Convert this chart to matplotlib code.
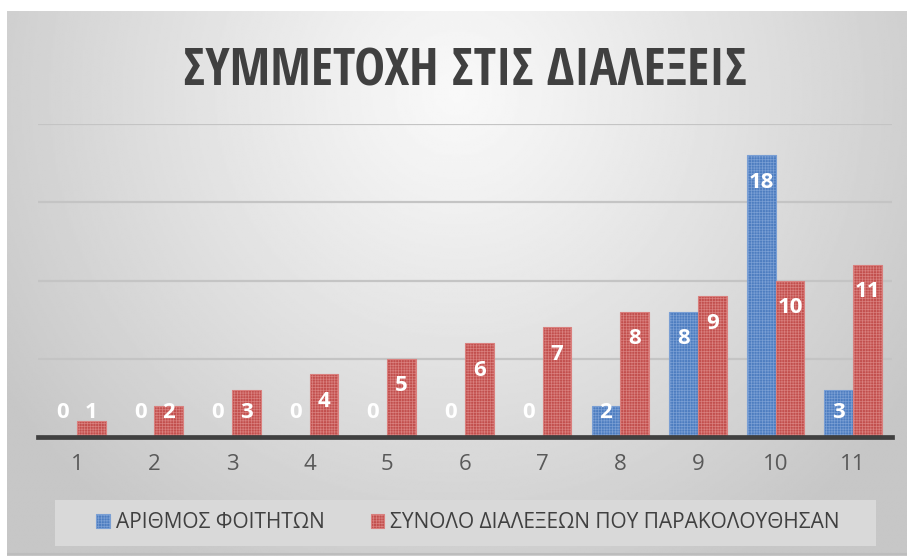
import numpy as np
import matplotlib
matplotlib.use("Agg")
import matplotlib.pyplot as plt
from matplotlib.patches import Rectangle
from matplotlib import font_manager
from matplotlib.ft2font import FT2Font

# ---- data ----
categories = ["1", "2", "3", "4", "5", "6", "7", "8", "9", "10", "11"]
students = [0, 0, 0, 0, 0, 0, 0, 2, 8, 18, 3]
lectures = [1, 2, 3, 4, 5, 6, 7, 8, 9, 10, 11]
series_names = ["ΑΡΙΘΜΟΣ ΦΟΙΤΗΤΩΝ", "ΣΥΝΟΛΟ ΔΙΑΛΕΞΕΩΝ ΠΟΥ ΠΑΡΑΚΟΛΟΥΘΗΣΑΝ"]
title_text = "ΣΥΜΜΕΤΟΧΗ ΣΤΙΣ ΔΙΑΛΕΞΕΙΣ"

W, H = 907, 556


def covers(path, text):
    try:
        f = FT2Font(path)
        return all(f.get_char_index(ord(c)) != 0 for c in set(text) if c != " ")
    except Exception:
        return False


def pick_condensed_bold():
    prefs = ["Open Sans", "Noto Sans", "Fira Sans", "Roboto", "IBM Plex Sans",
             "Liberation Sans", "Archivo", "PT Sans", "Ubuntu"]
    best = None
    for f in font_manager.fontManager.ttflist:
        narrow = (f.stretch in ("condensed", "semi-condensed", "extra-condensed")
                  or "ondensed" in f.fname or "Narrow" in f.fname)
        if not narrow or f.style != "normal":
            continue
        try:
            w = int(f.weight)
        except Exception:
            w = 700 if "bold" in str(f.weight).lower() else 400
        if w < 600 or w > 800:
            continue
        if "Semi" in f.fname or "Extra" in f.fname or "Italic" in f.fname:
            continue
        if not covers(f.fname, title_text):
            continue
        rank = next((i for i, p in enumerate(prefs) if f.name.startswith(p)), len(prefs))
        key = (rank, abs(w - 700))
        if best is None or key < best[0]:
            best = (key, f.fname)
    return best[1] if best else None


title_font_file = pick_condensed_bold()

plt.rcParams['hatch.linewidth'] = 0.5
fig = plt.figure(figsize=(W / 100, H / 100), dpi=100, facecolor="white")

# ---- gradient background (chart area) ----
bg = fig.add_axes([7 / W, 0, (W - 7) / W, (H - 11) / H], zorder=-10)
bg.set_axis_off()
ny, nx = 300, 500
yy, xx = np.mgrid[0:1:ny * 1j, 0:1:nx * 1j]
d = np.sqrt(((xx - 0.5) / 0.6) ** 2 + ((yy - 0.15) / 1.0) ** 2)
d = np.clip(d, 0, 1)
light, dark = 0.975, 0.78
img = light - (light - dark) * d ** 1.1
bg.imshow(img, cmap="gray", vmin=0, vmax=1, aspect="auto", extent=[0, 1, 1, 0],
          interpolation="bilinear")
bg.set_xlim(0, 1)
bg.set_ylim(1, 0)
bg.plot([0, 1], [0.003, 0.003], color="#bdbdbd", lw=1.5, transform=bg.transAxes)

# ---- main axes ----
ax = fig.add_axes([38 / W, (H - 437) / H, (892 - 38) / W, (437 - 124) / H])
ax.patch.set_alpha(0)
x = np.arange(1, len(categories) + 1)
bw = 0.37
blue_face, blue_edge = "#4d7dc0", "#7a9fd4"
red_face, red_edge = "#c24f4d", "#d9807e"
ax.bar(x - bw / 2, students, width=bw, color=blue_face, edgecolor=blue_edge,
       hatch="++++++", linewidth=0.8, zorder=3)
ax.bar(x + bw / 2, lectures, width=bw, color=red_face, edgecolor=red_edge,
       hatch="++++++", linewidth=0.8, zorder=3)

lab_font = dict(family=["Open Sans", "DejaVu Sans"], fontsize=16, fontweight="bold",
                color="white", ha="center", va="center", zorder=5)
for xi, v in zip(x, students):
    ax.text(xi - bw / 2, max(v - 1.72, 1.55), str(v), **lab_font)
for xi, v in zip(x, lectures):
    ax.text(xi + bw / 2, max(v - 1.72, 1.55), str(v), **lab_font)

ax.set_xlim(0.5, len(categories) + 0.5)
ax.set_ylim(0, 20)
ax.set_yticks([5, 10, 15, 20])
ax.yaxis.grid(True, color="#c4c4c4", lw=1.6, zorder=0)
ax.tick_params(axis="y", length=0, labelleft=False)
ax.set_xticks(x)
ax.set_xticklabels(categories, fontsize=16, color="#595959",
                   family=["Open Sans", "DejaVu Sans"])
ax.tick_params(axis="x", length=0, pad=12)
for s in ["top", "left", "right"]:
    ax.spines[s].set_visible(False)
ax.spines["bottom"].set_color("#404040")
ax.spines["bottom"].set_linewidth(3.4)
ax.spines["bottom"].set_zorder(6)

# ---- title ----
if title_font_file:
    tprops = font_manager.FontProperties(fname=title_font_file, size=38)
else:
    tprops = font_manager.FontProperties(family="DejaVu Sans", weight="bold",
                                         stretch="condensed", size=38)
title = fig.text(465 / W, 1 - 86 / H, title_text, ha="center", va="baseline",
                 fontproperties=tprops, color="#404040")
renderer = fig.canvas.get_renderer()
tw = title.get_window_extent(renderer=renderer).width
size = min(38 * 565 / tw, 42)
title.set_fontsize(size)

# ---- legend ----
fig.patches.append(Rectangle((55 / W, (H - 546) / H), (876 - 55) / W, 46 / H,
                             transform=fig.transFigure, facecolor="#d9d9d9",
                             edgecolor="none", zorder=1))
hb = Rectangle((0, 0), 1, 1, facecolor=blue_face, edgecolor=blue_edge, hatch="++++++", lw=0.8)
hr = Rectangle((0, 0), 1, 1, facecolor=red_face, edgecolor=red_edge, hatch="++++++", lw=0.8)
leg = fig.legend([hb, hr], series_names, loc="center",
                 bbox_to_anchor=(468 / W, (H - 523) / H), ncol=2, frameon=False,
                 handlelength=0.65, handleheight=0.65, handletextpad=0.3,
                 columnspacing=2.2,
                 prop=font_manager.FontProperties(family=["Open Sans", "DejaVu Sans"], size=15))
for t in leg.get_texts():
    t.set_color("#404040")

fig.savefig("out.png", dpi=100, facecolor="white")
